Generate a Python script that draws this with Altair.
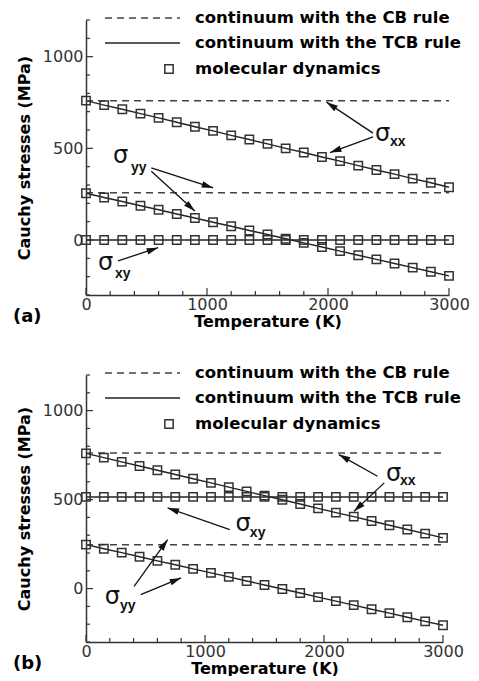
import math
import altair as alt
import pandas as pd

# ---------------- data ----------------
T = [0, 150, 300, 450, 600, 750, 900, 1050, 1200, 1350, 1500,
     1650, 1800, 1950, 2100, 2250, 2400, 2550, 2700, 2850, 3000]

# panel (a)
a_xx = [760, 736, 713, 689, 666, 642, 618, 595, 571, 548, 524,
        500, 477, 453, 430, 406, 382, 359, 335, 312, 288]
a_yy = [255, 232, 210, 187, 165, 142, 120, 97, 75, 52, 30,
        7, -16, -38, -61, -83, -106, -128, -151, -173, -196]
a_xy = [0, 0, 0, 0, 0, 0, 0, 0, 0, 0, 0,
        0, 0, 0, 0, 0, 0, 0, 0, 0, 0]
a_cb = [760, 258]

# panel (b)
b_xx = [760, 736, 712, 689, 665, 641, 617, 594, 570, 546, 522,
        499, 475, 451, 427, 404, 380, 356, 332, 309, 285]
b_yy = [247, 224, 202, 179, 156, 134, 111, 88, 66, 43, 20,
        -2, -25, -48, -70, -93, -116, -138, -161, -184, -206]
b_xy = [515, 515, 515, 515, 515, 515, 515, 515, 515, 515, 515,
        515, 515, 515, 515, 515, 515, 515, 515, 515, 515]
b_cb = [762, 247]

legend_labels = ["continuum with the CB rule",
                 "continuum with the TCB rule",
                 "molecular dynamics"]

# annotations: arrow tails / tips (data coordinates)
a_arrow_x0 = [2372, 2372, 540, 540, 265]
a_arrow_y0 = [583, 563, 393, 375, -114]
a_arrow_x1 = [1988, 2017, 1051, 899, 596]
a_arrow_y1 = [752, 477, 284, 158, -42]
a_sig_x = [2388, 223, 99]
a_sig_y = [580, 460, -127]
a_sub_x = [2512, 372, 240]
a_sub_y = [536, 395, -187]
a_sub_t = ["xx", "yy", "xy"]

b_arrow_x0 = [2450, 2506, 1208, 404, 460]
b_arrow_y0 = [631, 594, 331, 13, -34]
b_arrow_x1 = [2125, 2252, 686, 686, 799]
b_arrow_y1 = [753, 434, 453, 275, 60]
b_sig_x = [2520, 1256, 158]
b_sig_y = [646, 365, -47]
b_sub_x = [2639, 1377, 285]
b_sub_y = [603, 313, -99]
b_sub_t = ["xx", "xy", "yy"]

x_major = [0, 1000, 2000, 3000]
x_minor = [200, 400, 600, 800, 1200, 1400, 1600, 1800, 2200, 2400, 2600, 2800]
y_major = [0, 500, 1000]
y_minor = [-300, -200, -100, 100, 200, 300, 400, 600, 700, 800, 900, 1100, 1200]

XDOM = [0, 3000]
YDOM = [-300, 1200]
INK = "#222222"
HEAD = "M0,0L0.55,1.9L-0.55,1.9Z"


def panel(W, H, xx, yy, xy, cb, ax0, ay0, ax1, ay1, sx, sy, subx, suby, subt, tag):
    xs = alt.Scale(domain=XDOM, nice=False, zero=False)
    ys = alt.Scale(domain=YDOM, nice=False, zero=False)
    XA = alt.Axis(values=x_major, title="Temperature (K)", labelPadding=1,
                  titlePadding=1, format="d", ticks=False, grid=False,
                  labelFlush=False)
    YA = alt.Axis(values=y_major, title="Cauchy stresses (MPa)", labelPadding=3,
                  titlePadding=10, format="d", ticks=False, grid=False,
                  labelFlush=False)

    def X(f):
        return alt.X(f, scale=xs, axis=XA)

    def Y(f):
        return alt.Y(f, scale=ys, axis=YA)

    rows = []
    for comp, vals in (("xx", xx), ("yy", yy), ("xy", xy)):
        for t, v in zip(T, vals):
            rows.append({"T": t, "v": v, "comp": comp})
    df = pd.DataFrame(rows)

    lines = alt.Chart(df).mark_line(color=INK, strokeWidth=1.4).encode(
        x=X("T:Q"), y=Y("v:Q"), detail="comp:N")
    md = alt.Chart(df).mark_point(shape="square", filled=False, size=70,
                                  color="#333333", strokeWidth=1.5, opacity=1).encode(
        x=X("T:Q"), y=Y("v:Q"))
    cbdf = pd.DataFrame({"v": cb, "x0": [XDOM[0]] * len(cb), "x1": [XDOM[1]] * len(cb)})
    cbl = alt.Chart(cbdf).mark_rule(color="#444444", strokeWidth=1.5,
                                   strokeDash=[7, 5]).encode(
        y=Y("v:Q"), x=X("x0:Q"), x2="x1:Q")

    # ticks (inward)
    def xticks(vals, L):
        return alt.Chart(pd.DataFrame({"v": vals})).mark_rule(
            color="#333333", strokeWidth=1.2).encode(
            x=X("v:Q"), y=alt.value(H), y2=alt.value(H - L))

    def yticks(vals, L):
        return alt.Chart(pd.DataFrame({"v": vals})).mark_rule(
            color="#333333", strokeWidth=1.2).encode(
            y=Y("v:Q"), x=alt.value(0), x2=alt.value(L))

    # arrows
    angs = []
    for x0, y0, x1, y1 in zip(ax0, ay0, ax1, ay1):
        dxp = (x1 - x0) * W / (XDOM[1] - XDOM[0])
        dyp = (y1 - y0) * H / (YDOM[1] - YDOM[0])
        angs.append(math.degrees(math.atan2(dxp, dyp)) % 360)
    adf = pd.DataFrame({"x0": ax0, "y0": ay0, "x1": ax1, "y1": ay1, "ang": angs})
    shafts = alt.Chart(adf).mark_rule(color="#111111", strokeWidth=1.3).encode(
        x=X("x0:Q"), y=Y("y0:Q"), x2="x1:Q", y2="y1:Q")
    heads = alt.Chart(adf).mark_point(shape=HEAD, filled=True, size=144,
                                      color="#111111", opacity=1).encode(
        x=X("x1:Q"), y=Y("y1:Q"), angle=alt.Angle("ang:Q", scale=None))

    sdf = pd.DataFrame({"x": sx, "y": sy, "t": ["σ"] * len(sx)})
    sig = alt.Chart(sdf).mark_text(font="DejaVu Sans", fontSize=24, align="left",
                                   baseline="middle", color="#111111").encode(
        x=X("x:Q"), y=Y("y:Q"), text="t:N")
    subdf = pd.DataFrame({"x": subx, "y": suby, "t": subt})
    sub = alt.Chart(subdf).mark_text(font="Liberation Sans", fontWeight="bold",
                                     fontSize=14, align="left", baseline="middle",
                                     color="#111111").encode(
        x=X("x:Q"), y=Y("y:Q"), text="t:N")

    # legend (drawn in the panel)
    lg_rows = [-2, 23, 49]
    one = pd.DataFrame({"k": [0]})
    leg_dash = alt.Chart(one).mark_rule(color="#444444", strokeWidth=1.5,
                                       strokeDash=[7, 5]).encode(
        x=alt.value(19), x2=alt.value(94), y=alt.value(lg_rows[0]))
    leg_solid = alt.Chart(one).mark_rule(color=INK, strokeWidth=1.4).encode(
        x=alt.value(19), x2=alt.value(94), y=alt.value(lg_rows[1]))
    leg_sq = alt.Chart(one).mark_point(shape="square", filled=False, size=70,
                                       color="#333333", strokeWidth=1.5, opacity=1).encode(
        x=alt.value(83), y=alt.value(lg_rows[2]))
    leg_txt = []
    for lab, ry in zip(legend_labels, lg_rows):
        leg_txt.append(alt.Chart(pd.DataFrame({"t": [lab]})).mark_text(
            font="DejaVu Sans", fontWeight="bold", fontSize=16.5, align="left",
            baseline="middle", color="#000000").encode(
            x=alt.value(109), y=alt.value(ry), text="t:N"))

    tagc = alt.Chart(pd.DataFrame({"t": [tag]})).mark_text(
        font="DejaVu Sans", fontWeight="bold", fontSize=18, align="left",
        baseline="middle", color="#000000").encode(
        x=alt.value(-73), y=alt.value(H + 22), text="t:N")

    return alt.layer(
        lines, cbl, md,
        xticks(x_minor, 4), xticks(x_major, 7), yticks(y_minor, 4), yticks(y_major, 7),
        shafts, heads, sig, sub,
        leg_dash, leg_solid, leg_sq, *leg_txt, tagc,
    ).properties(width=W, height=H)


pa = panel(363, 275, a_xx, a_yy, a_xy, a_cb,
           a_arrow_x0, a_arrow_y0, a_arrow_x1, a_arrow_y1,
           a_sig_x, a_sig_y, a_sub_x, a_sub_y, a_sub_t, "(a)")
pb = panel(357, 267, b_xx, b_yy, b_xy, b_cb,
           b_arrow_x0, b_arrow_y0, b_arrow_x1, b_arrow_y1,
           b_sig_x, b_sig_y, b_sub_x, b_sub_y, b_sub_t, "(b)")

chart = alt.vconcat(pa, pb, spacing=36).properties(
    padding={"left": 5, "top": 2, "right": 0, "bottom": 0}
).configure_view(stroke=None).configure_axis(
    domainColor="#333333", domainWidth=1.5,
    labelFont="DejaVu Sans", labelFontSize=16, labelColor="#333333",
    titleFont="DejaVu Sans", titleFontWeight="bold", titleFontSize=16,
    titleColor="#000000",
)

chart.save("out.html", embed_options={"renderer": "svg", "actions": False})
